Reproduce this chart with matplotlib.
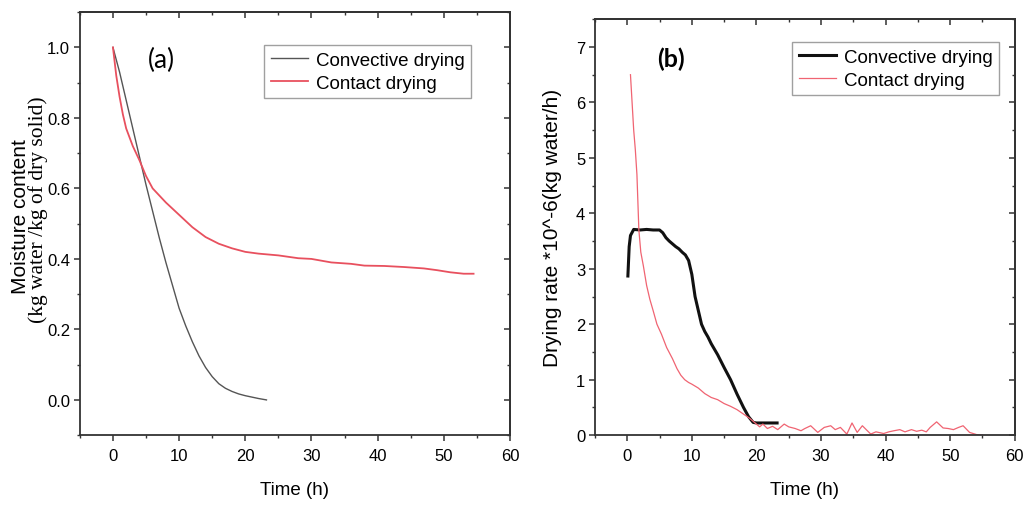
import numpy as np
import matplotlib
matplotlib.use('Agg')
import matplotlib.pyplot as plt
import matplotlib.ticker as mticker
from matplotlib import rcParams

rcParams['font.family'] = ['Liberation Sans', 'DejaVu Sans']

# (a) moisture content
t_conv_a = [0, 1, 2, 3, 4, 5, 6, 7, 8, 9, 10, 11, 12, 13, 14, 15, 16, 17, 18, 19, 20, 21, 22, 23.2]
mc_conv = [1.0, 0.93, 0.85, 0.77, 0.69, 0.61, 0.535, 0.46, 0.39, 0.325, 0.26, 0.21, 0.165, 0.125,
           0.092, 0.066, 0.046, 0.033, 0.024, 0.017, 0.012, 0.008, 0.004, 0.0]
t_cont_a = [0, 0.5, 1, 1.5, 2, 3, 4, 5, 6, 8, 10, 12, 14, 16, 18, 20, 22, 25, 28, 30, 33, 36, 38,
            41, 44, 47, 49, 51, 53, 54.5]
mc_cont = [1.0, 0.92, 0.86, 0.81, 0.77, 0.72, 0.68, 0.635, 0.60, 0.56, 0.525, 0.49, 0.462, 0.443,
           0.43, 0.42, 0.415, 0.41, 0.402, 0.40, 0.39, 0.386, 0.381, 0.38, 0.377, 0.373, 0.368,
           0.362, 0.358, 0.358]

# (b) drying rate
t_conv_b = [0.1, 0.3, 0.5, 1.0, 2, 3, 4, 5, 5.5, 6, 6.5, 7, 7.5, 8, 8.5, 9, 9.5, 10, 10.5, 11,
            11.5, 12, 12.5, 13, 14, 15, 16, 17, 18, 18.8, 19.5, 20, 21, 22, 23.2]
dr_conv = [2.87, 3.4, 3.6, 3.71, 3.7, 3.71, 3.7, 3.7, 3.65, 3.56, 3.5, 3.45, 3.4, 3.36, 3.3, 3.25,
           3.15, 2.9, 2.5, 2.25, 2.0, 1.87, 1.77, 1.65, 1.45, 1.22, 1.0, 0.74, 0.5, 0.33, 0.23,
           0.22, 0.22, 0.22, 0.22]
t_cont_b = [0.5, 0.8, 1.0, 1.25, 1.5, 1.8, 2.1, 2.5, 3.0, 3.5, 4.0, 4.6, 5.3, 6.1, 7.0, 7.7, 8.3,
            8.9, 9.5, 10, 11, 12, 13, 14, 15, 16, 17, 18, 19, 19.7, 20.5, 21, 21.7, 22.5, 23.3,
            24.3, 25, 26, 26.9, 27.5, 28.4, 29.5, 30.5, 31.5, 32.2, 33, 34, 34.8, 35.6, 36.4,
            37, 37.7, 38.5, 39.7, 40.5, 41.3, 42.2, 43, 44, 44.8, 45.6, 46.3, 46.9, 47.9, 48.9,
            49.7, 50.5, 51.3, 52, 53, 54.1, 55]
dr_cont = [6.5, 5.9, 5.5, 5.15, 4.7, 3.7, 3.3, 3.05, 2.7, 2.45, 2.25, 2.0, 1.82, 1.58, 1.38, 1.2,
           1.08, 1.0, 0.95, 0.92, 0.85, 0.75, 0.68, 0.64, 0.57, 0.52, 0.46, 0.38, 0.3, 0.23, 0.15,
           0.2, 0.12, 0.16, 0.1, 0.2, 0.15, 0.12, 0.08, 0.12, 0.17, 0.05, 0.14, 0.17, 0.1, 0.14,
           0.02, 0.22, 0.05, 0.17, 0.1, 0.02, 0.06, 0.03, 0.06, 0.08, 0.1, 0.06, 0.1, 0.07, 0.09,
           0.06, 0.14, 0.24, 0.13, 0.12, 0.1, 0.14, 0.17, 0.05, 0.01, 0.0]

fig = plt.figure(figsize=(10.24, 5.06), dpi=100)
axA = fig.add_axes([0.078, 0.138, 0.42, 0.836])
axB = fig.add_axes([0.581, 0.138, 0.41, 0.822])

spine_col = '#333333'


def style_axis(ax, ymajor, yminor, yfmt):
    ax.set_xlim(-5, 60)
    ax.xaxis.set_major_locator(mticker.MultipleLocator(10))
    ax.xaxis.set_minor_locator(mticker.MultipleLocator(5))
    ax.yaxis.set_major_locator(mticker.MultipleLocator(ymajor))
    ax.yaxis.set_minor_locator(mticker.MultipleLocator(yminor))
    ax.yaxis.set_major_formatter(mticker.FormatStrFormatter(yfmt))
    for s in ax.spines.values():
        s.set_linewidth(1.3)
        s.set_color(spine_col)
    ax.tick_params(which='major', direction='out', length=4.5, width=1.1,
                   color=spine_col, labelsize=12, pad=2.5)
    ax.tick_params(axis='x', which='major', pad=5)
    ax.tick_params(which='minor', direction='out', length=2.5, width=1.0, color=spine_col)
    # mirrored ticks pointing inwards
    top = ax.secondary_xaxis('top')
    top.xaxis.set_major_locator(mticker.MultipleLocator(10))
    top.xaxis.set_minor_locator(mticker.MultipleLocator(5))
    top.tick_params(which='major', direction='in', length=4.5, width=1.1, color=spine_col,
                    labeltop=False)
    top.tick_params(which='minor', direction='in', length=2.5, width=1.0, color=spine_col)
    top.spines['top'].set_linewidth(1.3)
    top.spines['top'].set_color(spine_col)
    right = ax.secondary_yaxis('right')
    right.yaxis.set_major_locator(mticker.MultipleLocator(ymajor))
    right.yaxis.set_minor_locator(mticker.MultipleLocator(yminor))
    right.tick_params(which='major', direction='in', length=4.5, width=1.1, color=spine_col,
                      labelright=False)
    right.tick_params(which='minor', direction='in', length=2.5, width=1.0, color=spine_col)
    right.spines['right'].set_linewidth(1.3)
    right.spines['right'].set_color(spine_col)
    ax.set_xlabel('Time (h)', fontsize=13.5, labelpad=13)


# panel (a)
axA.plot(t_conv_a, mc_conv, color='#555555', lw=1.0, label='Convective drying')
axA.plot(t_cont_a, mc_cont, color='#e8505e', lw=1.3, label='Contact drying')
axA.set_ylim(-0.1, 1.1)
style_axis(axA, 0.2, 0.1, '%.1f')
axA.text(0.19, 0.887, '(a)', transform=axA.transAxes, fontsize=19, family='Lato',
         ha='center', va='center')
axA.text(-0.138, 0.52, 'Moisture content', transform=axA.transAxes, rotation=90,
         fontsize=15, ha='center', va='center')
axA.text(-0.097, 0.535, '(kg water /kg of dry solid)', transform=axA.transAxes, rotation=90,
         fontsize=15.5, family=['Liberation Serif', 'DejaVu Serif'], ha='center', va='center')
legA = axA.legend(loc='upper right', bbox_to_anchor=(0.909, 0.922), fontsize=13.5,
                  frameon=True, fancybox=False, edgecolor='#888888', handlelength=2.0,
                  borderpad=0.35, labelspacing=0.3, handletextpad=0.4, borderaxespad=0)
legA.get_frame().set_linewidth(1.0)

# panel (b)
axB.plot(t_conv_b, dr_conv, color='#111111', lw=2.2, label='Convective drying')
axB.plot(t_cont_b, dr_cont, color='#f06472', lw=0.9, label='Contact drying')
axB.set_ylim(0, 7.5)
style_axis(axB, 1, 0.5, '%d')
axB.text(0.181, 0.907, '(b)', transform=axB.transAxes, fontsize=18, family='Lato',
         fontweight='bold', ha='center', va='center')
axB.set_ylabel('Drying rate *10^-6(kg water/h)', fontsize=15, labelpad=10)
legB = axB.legend(loc='upper right', bbox_to_anchor=(0.962, 0.945), fontsize=13.5,
                  frameon=True, fancybox=False, edgecolor='#888888', handlelength=2.0,
                  borderpad=0.35, labelspacing=0.3, handletextpad=0.4, borderaxespad=0)
legB.get_frame().set_linewidth(1.0)

fig.savefig('out.png', dpi=100)
